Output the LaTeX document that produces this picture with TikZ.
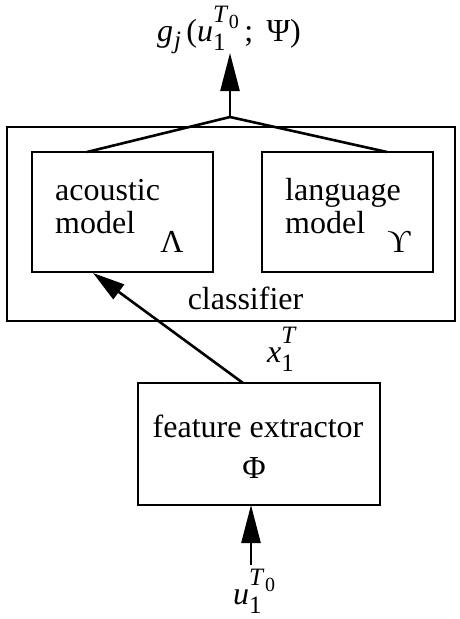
\documentclass[tikz,border=0pt]{standalone}
\usepackage{fontspec}
\setmainfont{Liberation Serif}
\usetikzlibrary{arrows.meta}
\newcommand\mysubsup[2]{{\fontsize{25}{25}\selectfont\rlap{\raisebox{-9pt}{#1}}\raisebox{19pt}{#2}}}
\newcommand\mysubonly[1]{{\fontsize{25}{25}\selectfont\raisebox{-7pt}{#1}}}
\newcommand\myTzero{\textit{T}\kern0.5pt\raisebox{-6pt}{\fontsize{20}{20}\selectfont 0}}
\begin{document}
\begin{tikzpicture}[x=1pt,y=-1pt,
  box/.style={draw,line width=2pt,rectangle,inner sep=0pt},
  txt/.style={inner sep=0pt,font=\fontsize{32}{38}\selectfont},
  conn/.style={line width=2.6pt},
  arr/.style={conn,-{Triangle[length=38pt,width=19pt]}},
  sarr/.style={conn,-{Triangle[length=32pt,width=18pt]}}]
\useasboundingbox (0,0) rectangle (459,619);
\node[box,minimum width=448pt,minimum height=194pt] (cls) at (231,224) {};
\node[box,minimum width=181pt,minimum height=120pt] (am) at (122.5,212) {};
\node[box,minimum width=171pt,minimum height=120pt] (lm) at (347.5,212) {};
\node[box,minimum width=242pt,minimum height=122pt] (fe) at (259,444) {};
\node[txt,anchor=base west] (amt1) at (55,200) {acoustic};
\node[txt,anchor=base west] (amt2) at (55,233) {model};
\node[txt,anchor=base] (lam) at (172,252) {Λ};
\node[txt,anchor=base west] (lmt1) at (285,200) {language};
\node[txt,anchor=base west] (lmt2) at (285,233) {model};
\node[txt,anchor=base] (ups) at (399,252) {ϒ};
\node[txt,anchor=base] (clst) at (245.5,309) {classifier};
\node[txt,anchor=base] (fet) at (258,437) {feature extractor};
\node[txt] (phi) at (254,468) {Φ};
\node[txt,anchor=base west] (xt) at (267,362) {\textit{x}\mysubsup{1}{\textit{T}}};
\node[txt,anchor=base west] (uin) at (233,604) {\textit{u}\mysubsup{1}{\myTzero}};
\node[txt,anchor=base] (gout) at (229,41) {\textit{g}\mysubonly{\kern1pt\textit{j}}\,(\textit{u}\mysubsup{1}{\myTzero}\,;\, Ψ)};
\coordinate (apex) at (230,117);
\coordinate (amtop) at (87,152);
\coordinate (lmtop) at (387,152);
\coordinate (outtip) at (230,53);
\coordinate (fetop) at (243,383);
\coordinate (ambot) at (93,273);
\coordinate (inbot) at (251,565);
\coordinate (febot) at (251,505);
\draw[conn] (amtop) -- (apex) -- (lmtop);
\draw[arr] (apex) -- (outtip);
\draw[sarr] (fetop) -- (ambot);
\draw[arr] (inbot) -- (febot);
\end{tikzpicture}
\end{document}
